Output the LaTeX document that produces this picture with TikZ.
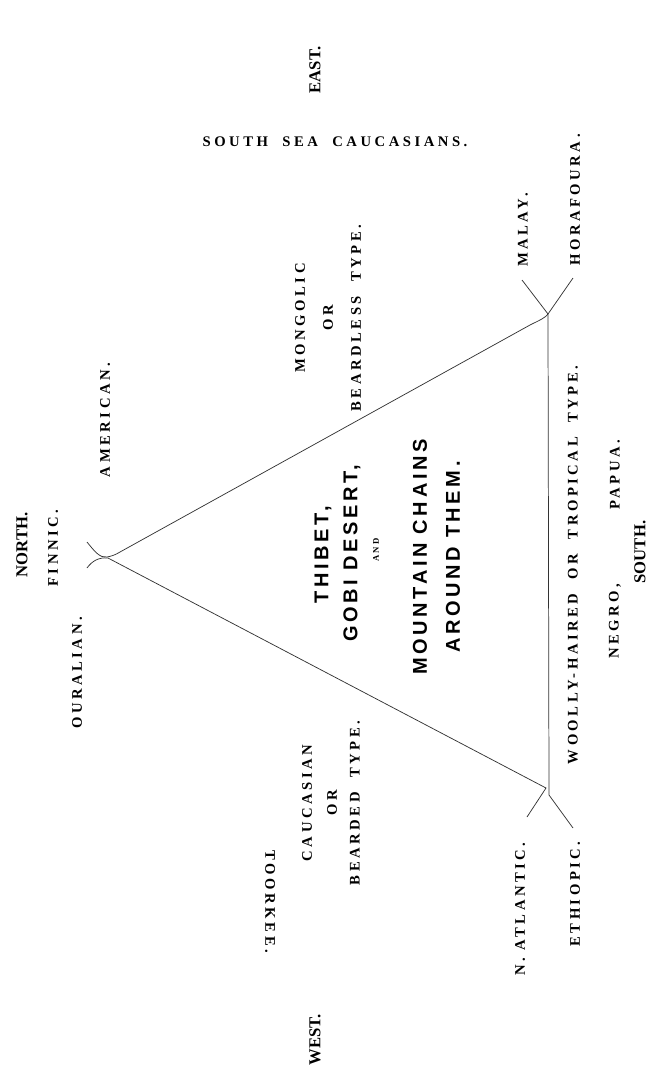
\documentclass[tikz,border=0pt]{standalone}
\usepackage{fontspec}
\setmainfont{Liberation Serif}
\newfontfamily\spaced{Liberation Serif}[LetterSpace=24]
\newfontfamily\blocksans{Liberation Sans}[LetterSpace=18]
\begin{document}
\begin{tikzpicture}[x=0.75pt,y=-0.75pt,
  lab/.style={rotate=90,inner sep=0pt,font=\spaced\bfseries\fontsize{11}{12}\selectfont},
  hlab/.style={inner sep=0pt,font=\spaced\bfseries\fontsize{11}{12}\selectfont},
  dir/.style={rotate=90,inner sep=0pt,font=\bfseries\fontsize{12.5}{14}\selectfont},
  blk/.style={rotate=90,inner sep=0pt,font=\blocksans\bfseries\fontsize{15}{17}\selectfont},
  tiny/.style={rotate=90,inner sep=0pt,font=\spaced\bfseries\fontsize{6.5}{8}\selectfont},
  ln/.style={line width=0.55pt,draw=black!80}]
\useasboundingbox (0,0) rectangle (652,1072);
% junctions and ends
\coordinate (apexU) at (107,557);
\coordinate (apexL) at (108,558);
\coordinate (hookU) at (87,542);
\coordinate (hookL) at (87,568);
\coordinate (ne) at (548,314);
\coordinate (sw) at (546,788);
\coordinate (swv) at (549,795);
\coordinate (malayEnd) at (522,280);
\coordinate (horaEnd) at (573,278);
\coordinate (atlEnd) at (527,817);
\coordinate (ethEnd) at (573,828);
% lines
\draw[ln] (hookU) .. controls (95,552) and (100,558) .. (apexU)
  .. controls (112,556) and (115,555) .. (120,552) -- (530,325)
  .. controls (540,320) and (545,318) .. (ne) -- (malayEnd);
\draw[ln] (horaEnd) -- (ne) -- (swv) -- (ethEnd);
\draw[ln] (hookL) .. controls (92,561) and (99,557) .. (apexL) -- (sw) -- (atlEnd);
% labels
\node[dir] (east) at (315,70) {EAST.};
\node[hlab] (ssc) at (335,142) {SOUTH\ \ SEA\ \ CAUCASIANS.};
\node[lab] (mong) at (300,318) {MONGOLIC};
\node[lab] (mor) at (328,318) {OR};
\node[lab] (beardless) at (356,318) {BEARDLESS\ \ TYPE.};
\node[lab] (malay) at (523,230) {MALAY.};
\node[lab] (hora) at (575,200) {HORAFOURA.};
\node[dir] (north) at (22,545) {NORTH.};
\node[lab] (finnic) at (53,548) {FINNIC.};
\node[lab] (american) at (105,420) {AMERICAN.};
\node[lab] (ouralian) at (77,673) {OURALIAN.};
\node[blk] (thibet) at (323,555) {THIBET,};
\node[blk] (gobi) at (352,553) {GOBI DESERT,};
\node[tiny] (and) at (376,550) {AND};
\node[blk] (mount) at (420,557) {MOUNTAIN CHAINS};
\node[blk] (around) at (453,557) {AROUND THEM.};
\node[lab] (woolly) at (573,565) {WOOLLY-HAIRED\ \ OR\ \ TROPICAL\ \ TYPE.};
\node[lab] (papua) at (615,475) {PAPUA.};
\node[lab] (negro) at (615,621) {NEGRO,};
\node[dir] (south) at (640,552) {SOUTH.};
\node[lab] (cauc) at (307,803) {CAUCASIAN};
\node[lab] (cor) at (332,803) {OR};
\node[lab] (bearded) at (355,803) {BEARDED\ \ TYPE.};
\node[lab] (atl) at (520,909) {N. ATLANTIC.};
\node[lab] (eth) at (575,894) {ETHIOPIC.};
\node[lab,rotate=180] (toorkee) at (270,902) {TOORKEE.};
\node[dir] (west) at (315,1040) {WEST.};
\end{tikzpicture}
\end{document}
